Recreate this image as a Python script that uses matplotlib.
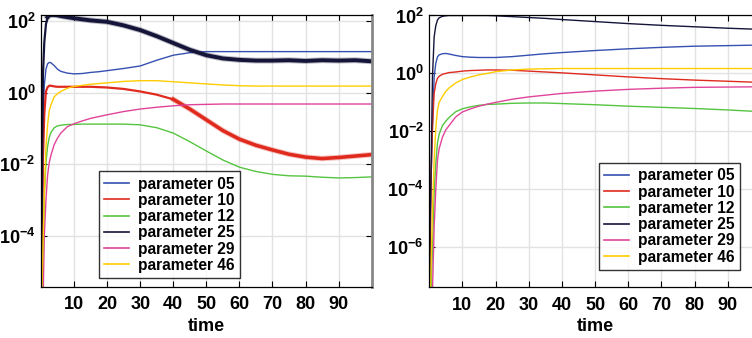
import numpy as np
import matplotlib
matplotlib.use('Agg')
import matplotlib.pyplot as plt
from matplotlib.ticker import FixedLocator, FuncFormatter

plt.rcParams['font.family'] = ['Liberation Sans', 'DejaVu Sans']
plt.rcParams['font.weight'] = 'bold'
plt.rcParams['mathtext.fontset'] = 'custom'
plt.rcParams['mathtext.bf'] = 'Liberation Sans:bold'
plt.rcParams['mathtext.rm'] = 'Liberation Sans:bold'

labels = ['parameter 05', 'parameter 10', 'parameter 12',
          'parameter 25', 'parameter 29', 'parameter 46']
colors = ['#3550b0', '#e02a1e', '#55c440', '#15153a', '#e0449a', '#ffcc00']

# 左图：随机模拟（log10 值）
t_sim = [0, 0.3, 0.6, 1.0, 1.5, 2.0, 2.5, 3, 4, 5, 6, 8, 10, 12.5, 15, 17.5, 20,
         25, 30, 35, 40, 45, 50, 55, 60, 65, 70, 75, 80, 85, 90, 95, 100]
sim_05 = [-6, -3.0, -0.8, 0.2, 0.65, 0.8, 0.84, 0.83, 0.75, 0.65, 0.59, 0.54, 0.52, 0.53, 0.56,
          0.58, 0.61, 0.67, 0.74, 0.9, 1.04, 1.11, 1.14, 1.14, 1.14, 1.14, 1.14, 1.14, 1.14,
          1.14, 1.14, 1.14, 1.14]
sim_10 = [-7, -4.5, -1.8, -0.6, 0.03, 0.15, 0.19, 0.19, 0.17, 0.16, 0.16, 0.16, 0.16, 0.16,
          0.16, 0.15, 0.14, 0.1, 0.03, -0.06, -0.19, -0.46, -0.76, -1.06, -1.3, -1.47, -1.6,
          -1.72, -1.8, -1.84, -1.81, -1.77, -1.73]
sim_12 = [-8, -7, -5.1, -2.9, -1.95, -1.5, -1.25, -1.12, -0.98, -0.93, -0.91, -0.89, -0.89,
          -0.88, -0.88, -0.88, -0.88, -0.88, -0.9, -0.98, -1.13, -1.37, -1.63, -1.88, -2.08,
          -2.2, -2.28, -2.32, -2.33, -2.36, -2.38, -2.37, -2.35]
sim_25 = [-6, -2.5, 0.5, 1.4, 1.9, 2.1, 2.15, 2.16, 2.16, 2.15, 2.13, 2.1, 2.07, 2.04, 2.01,
          1.99, 1.97, 1.87, 1.74, 1.57, 1.38, 1.19, 1.04, 0.95, 0.91, 0.89, 0.89, 0.9, 0.88,
          0.9, 0.89, 0.9, 0.87]
sim_29 = [-8, -7, -6, -4, -3.0, -2.3, -1.95, -1.75, -1.45, -1.27, -1.13, -0.95, -0.87, -0.79,
          -0.72, -0.67, -0.62, -0.53, -0.46, -0.41, -0.37, -0.34, -0.33, -0.32, -0.32, -0.32,
          -0.32, -0.32, -0.32, -0.32, -0.32, -0.32, -0.32]
sim_46 = [-7, -5.5, -4.2, -2.9, -1.5, -0.9, -0.5, -0.35, -0.12, -0.03, 0.03, 0.12, 0.17, 0.2,
          0.23, 0.25, 0.27, 0.31, 0.33, 0.33, 0.3, 0.27, 0.24, 0.21, 0.19, 0.18, 0.18, 0.18,
          0.18, 0.18, 0.18, 0.18, 0.18]

# 右图：确定性解（log10 值）
t_ode = [0, 0.3, 0.6, 1.0, 1.5, 2, 2.5, 3, 4, 5, 6, 8, 10, 12.5, 15, 17.5, 20,
         25, 30, 35, 40, 50, 60, 70, 80, 90, 100]
ode_05 = [-9, -6, -3.5, -1.84, -0.12, 0.35, 0.57, 0.64, 0.68, 0.69, 0.67, 0.62, 0.58, 0.56,
          0.55, 0.55, 0.55, 0.58, 0.63, 0.68, 0.72, 0.79, 0.85, 0.9, 0.94, 0.96, 0.98]
ode_10 = [-9, -6, -3.5, -1.84, -0.69, -0.35, -0.17, -0.1, -0.03, 0.0, 0.03, 0.05, 0.08, 0.1,
          0.11, 0.12, 0.12, 0.11, 0.08, 0.05, 0.02, -0.05, -0.12, -0.18, -0.23, -0.27, -0.31]
ode_12 = [-9, -8.5, -7.5, -6.0, -4.14, -3.1, -2.41, -2.1, -1.8, -1.65, -1.52, -1.32, -1.22,
          -1.15, -1.1, -1.07, -1.06, -1.03, -1.02, -1.02, -1.04, -1.08, -1.13, -1.17, -1.21,
          -1.26, -1.32]
ode_25 = [-9, -5, -3.2, -0.1, 1.26, 1.65, 1.84, 1.92, 1.97, 1.99, 2.0, 2.0, 2.0, 2.0, 2.0,
          2.0, 1.99, 1.96, 1.93, 1.9, 1.86, 1.79, 1.72, 1.66, 1.61, 1.56, 1.52]
ode_29 = [-9, -9, -8.5, -7.5, -5.3, -4.0, -2.99, -2.6, -2.2, -1.95, -1.8, -1.5, -1.33, -1.22,
          -1.13, -1.06, -1.0, -0.89, -0.81, -0.75, -0.69, -0.61, -0.55, -0.51, -0.48, -0.47,
          -0.46]
ode_46 = [-9, -8, -6.5, -4.7, -2.99, -1.9, -1.27, -1.0, -0.8, -0.62, -0.5, -0.33, -0.21,
          -0.12, -0.05, 0.0, 0.06, 0.12, 0.15, 0.16, 0.17, 0.17, 0.17, 0.17, 0.17, 0.17, 0.17]

sim_series = [sim_05, sim_10, sim_12, sim_25, sim_29, sim_46]
ode_series = [ode_05, ode_10, ode_12, ode_25, ode_29, ode_46]
# 10 和 25 在模拟中噪声很大：(起始时刻, 线宽) 画成粗的噪声带
noise_band = {1: (40, 2.5), 3: (2, 2.8)}

x_ticks = [10, 20, 30, 40, 50, 60, 70, 80, 90]
left_yticks = [-4, -2, 0, 2]
right_yticks = [-6, -4, -2, 0, 2]


def style_axes(ax, yticks, ylim):
    ax.set_yscale('log')
    ax.set_xlim(0, 100)
    ax.set_ylim(10 ** ylim[0], 10 ** ylim[1])
    ax.xaxis.set_major_locator(FixedLocator(x_ticks))
    ax.yaxis.set_major_locator(FixedLocator([10.0 ** e for e in yticks]))
    ax.yaxis.set_minor_locator(FixedLocator([]))
    ax.yaxis.set_major_formatter(FuncFormatter(lambda v, p: r'$\mathbf{10^{%d}}$' % round(np.log10(v))))
    ax.tick_params(direction='in', top=True, right=True, length=4, width=0.8,
                   labelsize=13, pad=7)
    ax.tick_params(axis='y', pad=4)
    ax.grid(True, color='#e2e2e2', linewidth=1.0)
    ax.set_axisbelow(True)
    for s in ax.spines.values():
        s.set_linewidth(0.9)
    ax.set_xlabel('time', fontsize=13, fontweight='bold', labelpad=3)


fig = plt.figure(figsize=(7.52, 3.38), dpi=100)
ax1 = fig.add_axes([0.0545, 0.1518, 0.4398, 0.8038])
ax2 = fig.add_axes([0.5707, 0.1509, 0.4412, 0.8033])

t_arr = np.array(t_sim)
for i, (vals, c, lab) in enumerate(zip(sim_series, colors, labels)):
    y = 10 ** np.array(vals)
    if i in noise_band:
        t0, w = noise_band[i]
        m = t_arr >= t0
        ax1.plot(t_arr, y, color=c, lw=1.6, label=lab)
        ax1.plot(t_arr[m], y[m], color=c, lw=w + 1.4, alpha=0.3, solid_joinstyle='round')
        ax1.plot(t_arr[m], y[m], color=c, lw=w, solid_joinstyle='round')
    else:
        ax1.plot(t_arr, y, color=c, lw=1.0, label=lab)
style_axes(ax1, left_yticks, (-5.41, 2.16))
ax1.spines['right'].set_color('#888888')
ax1.spines['right'].set_linewidth(2)

for vals, c, lab in zip(ode_series, colors, labels):
    ax2.plot(t_ode, 10 ** np.array(vals), color=c, lw=1.0, label=lab)
style_axes(ax2, right_yticks, (-7.37, 2.0))

leg_kw = dict(fontsize=11.2, frameon=True, fancybox=False, edgecolor='black',
              handlelength=1.6, handletextpad=0.55, labelspacing=0.08,
              borderpad=0.35, borderaxespad=0, loc='lower left')
leg1 = ax1.legend(bbox_to_anchor=(0.175, 0.031), **leg_kw)
leg2 = ax2.legend(bbox_to_anchor=(0.512, 0.0626), **leg_kw)
for leg in (leg1, leg2):
    leg.get_frame().set_linewidth(1.0)
    for line in leg.get_lines():
        line.set_linewidth(1.2)
        line.set_alpha(1)

fig.savefig('out.png', dpi=100)
